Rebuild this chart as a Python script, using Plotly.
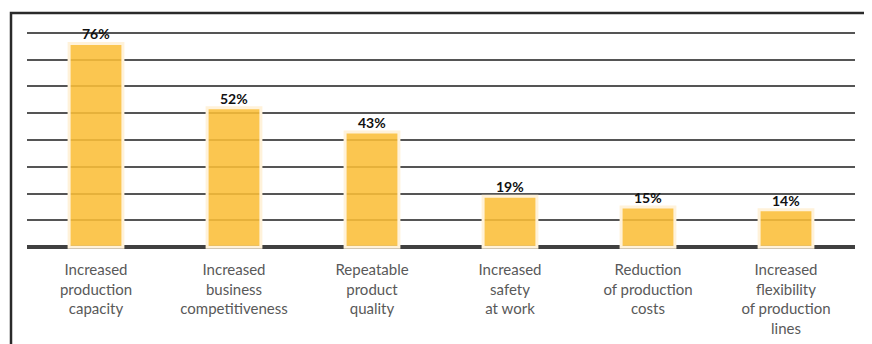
import plotly.graph_objects as go

categories = [
    "Increased<br>production<br>capacity",
    "Increased<br>business<br>competitiveness",
    "Repeatable<br>product<br>quality",
    "Increased<br>safety<br>at work",
    "Reduction<br>of production<br>costs",
    "Increased<br>flexibility<br>of production<br>lines",
]
values = [76, 52, 43, 19, 15, 14]
value_labels = ["76%", "52%", "43%", "19%", "15%", "14%"]

# page has an 8px body margin, so the figure starts at (8, 8)
OFF = 8
W, H = 872 - OFF, 344 - OFF
ML, MR, MT, MB = 27 - OFF, 17, 30 - OFF, 94
plot_w = W - ML - MR
plot_h = H - MT - MB

def px_to_paper_x(px):
    return (px - OFF - ML) / plot_w

def px_to_paper_y(py):
    return (H - MB - (py - OFF)) / plot_h

fig = go.Figure()
fig.add_trace(go.Bar(
    x=categories,
    y=values,
    width=0.39,
    marker=dict(
        color="rgba(251,190,56,0.88)",
        line=dict(color="rgb(255,242,218)", width=3),
    ),
    hoverinfo="skip",
))

for c, v, t in zip(categories, values, value_labels):
    fig.add_annotation(
        x=c, y=v, text=t, showarrow=False,
        yanchor="bottom", yshift=-1,
        font=dict(family="Lato", size=14, color="#111111", weight="bold"),
    )

# outer frame
fig.add_shape(
    type="rect", xref="paper", yref="paper",
    x0=px_to_paper_x(11), x1=px_to_paper_x(868),
    y0=px_to_paper_y(370), y1=px_to_paper_y(13),
    line=dict(color="#2a2a2a", width=2.5),
    fillcolor="rgba(0,0,0,0)",
    layer="below",
)

fig.update_layout(
    width=W, height=H,
    margin=dict(l=ML, r=MR, t=MT, b=MB, pad=0, autoexpand=False),
    paper_bgcolor="white",
    plot_bgcolor="white",
    showlegend=False,
    xaxis=dict(
        showgrid=False, showline=False, zeroline=False, automargin=False,
        ticks="", tickangle=0, ticklabelstandoff=9,
        tickfont=dict(family="Lato", size=15, color="#595959"),
        range=[-0.5, 5.5],
    ),
    yaxis=dict(
        range=[-1, 81], automargin=False,
        dtick=10, tick0=0,
        showgrid=True, gridcolor="#555555", gridwidth=2,
        zeroline=True, zerolinecolor="#404040", zerolinewidth=4,
        showticklabels=False, ticks="", showline=False,
    ),
)

fig.write_html("out.html")
